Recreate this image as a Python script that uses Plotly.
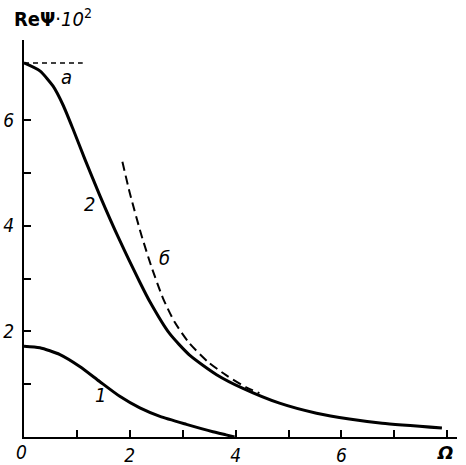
import plotly.graph_objects as go

# Curve 2 (solid)
c2_x = [0, 0.30, 0.55, 0.74, 0.93, 1.15, 1.43, 1.81, 2.19, 2.38, 2.75, 3.13, 3.64, 4.14, 4.83, 5.53, 6.15, 6.77, 7.9]
c2_y = [7.08, 6.93, 6.64, 6.28, 5.82, 5.26, 4.58, 3.72, 2.93, 2.56, 1.96, 1.55, 1.18, 0.92, 0.64, 0.45, 0.34, 0.26, 0.17]

# Curve 1 (solid)
c1_x = [0, 0.30, 0.68, 1.06, 1.43, 1.81, 2.19, 2.57, 3.07, 3.57, 3.82, 3.98]
c1_y = [1.72, 1.69, 1.56, 1.33, 1.05, 0.77, 0.55, 0.39, 0.24, 0.10, 0.04, 0.0]

# Asymptote b (dashed)
b_x = [1.86, 2.0, 2.22, 2.41, 2.63, 2.85, 3.13, 3.48, 3.82, 4.2, 4.45]
b_y = [5.21, 4.62, 3.82, 3.22, 2.62, 2.17, 1.77, 1.42, 1.17, 0.94, 0.83]

# Asymptote a (dashed horizontal)
a_x = [0, 1.11]
a_y = [7.08, 7.08]

x_ticks = [2, 4, 6]
x_ticklabels = ["2", "4", "6"]
x_minor_ticks = [1, 3, 5, 7, 8]
y_ticks = [2, 4, 6]
y_ticklabels = ["2", "4", "6"]
y_minor_ticks = [1, 3, 5]

FONT = "Liberation Sans Narrow, DejaVu Sans Condensed, Liberation Sans"

fig = go.Figure()
fig.add_trace(go.Scatter(x=c2_x, y=c2_y, mode="lines", line=dict(color="black", width=3, shape="spline", smoothing=0.6)))
fig.add_trace(go.Scatter(x=c1_x, y=c1_y, mode="lines", line=dict(color="black", width=3, shape="spline", smoothing=0.6)))
fig.add_trace(go.Scatter(x=b_x, y=b_y, mode="lines", line=dict(color="black", width=2, dash="9px,5px", shape="spline", smoothing=0.6)))
fig.add_trace(go.Scatter(x=a_x, y=a_y, mode="lines", line=dict(color="black", width=1.5, dash="5px,4px")))

tickfont = dict(family=FONT, size=19, color="black", style="italic")

fig.update_layout(
    width=466, height=465,
    margin=dict(l=24, r=9, t=40, b=28),
    paper_bgcolor="white", plot_bgcolor="white",
    showlegend=False,
    xaxis=dict(range=[0, 8.185], automargin=False, showgrid=False, zeroline=False, showline=True,
               linecolor="black", linewidth=2,
               tickmode="array", tickvals=x_ticks, ticktext=x_ticklabels, ticks="inside", ticklen=7,
               tickwidth=1.5, tickcolor="black", tickfont=tickfont, ticklabelstandoff=0,
               minor=dict(tickmode="array", tickvals=x_minor_ticks, ticks="inside", ticklen=7,
                          tickwidth=1.5, tickcolor="black", showgrid=False)),
    yaxis=dict(range=[0, 7.515], automargin=False, showgrid=False, zeroline=False, showline=True,
               linecolor="black", linewidth=2,
               tickmode="array", tickvals=y_ticks, ticktext=y_ticklabels, ticks="inside", ticklen=7,
               tickwidth=1.5, tickcolor="black", tickfont=tickfont, ticklabelstandoff=4,
               minor=dict(tickmode="array", tickvals=y_minor_ticks, ticks="inside", ticklen=7,
                          tickwidth=1.5, tickcolor="black", showgrid=False)),
)

lab_font = dict(family=FONT, size=20, color="black", style="italic")
annots = [
    ("a", 0.81, 6.82),
    ("2", 1.23, 4.42),
    ("б", 2.65, 3.38),
    ("1", 1.44, 0.79),
]
for t, x, y in annots:
    fig.add_annotation(x=x, y=y, xref="x", yref="y", text=t, showarrow=False, font=lab_font)

fig.add_annotation(x=0, y=-0.038, xref="paper", yref="paper", yanchor="middle", xanchor="center", xshift=-3,
                   text="0", showarrow=False, font=tickfont)
fig.add_annotation(x=0.972, y=-0.038, xref="paper", yref="paper", yanchor="middle", xanchor="center",
                   text="<b>Ω</b>", showarrow=False,
                   font=dict(family="DejaVu Sans", size=18, color="black", style="italic"))
fig.add_annotation(x=0.0, y=1.0, xref="paper", yref="paper", xanchor="left", yanchor="bottom", xshift=-12, yshift=7,
                   text="<b>ReΨ</b>·<i>10</i><sup>2</sup>", showarrow=False,
                   font=dict(family=FONT, size=20, color="black"))

fig.write_html("out.html", config={"displayModeBar": False},
               post_script="document.body.style.margin='0';document.body.style.padding='0';")
